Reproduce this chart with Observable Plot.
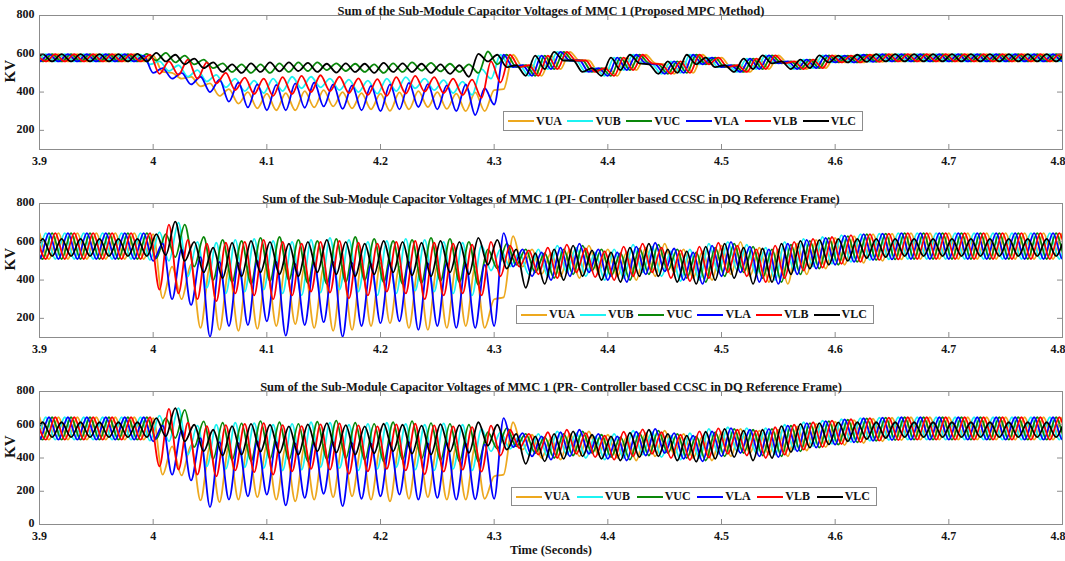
<!DOCTYPE html>
<html><head><meta charset="utf-8">
<script src="https://cdn.jsdelivr.net/npm/d3@7"></script>
<script src="https://cdn.jsdelivr.net/npm/@observablehq/plot@0.6"></script>
<style>
body{margin:0;background:#fff;}
#wrap{position:relative;width:1065px;height:561px;overflow:hidden;font-family:"Liberation Serif","Times New Roman",serif;}
#wrap svg{display:block;}
.legend{position:absolute;background:#fff;border:1px solid #8c8c8c;display:flex;align-items:center;justify-content:space-between;box-sizing:border-box;padding:0 6px 0 4px;font:bold 12px "Liberation Serif",serif;color:#111;}
.legend .item{display:flex;align-items:center;}
.legend .sw{width:26px;height:2px;margin-right:2px;}
</style></head><body><div id="wrap"></div>
<script>
// ---- series definitions ----
const seriesNames = ["VUA","VUB","VUC","VLA","VLB","VLC"];
const seriesColors = ["#EDA81E","#1CF2F2","#0A870A","#0000FF","#FF0000","#000000"];
const seriesPhase = [0, -2/3, -1/3, -1/2, -1/6, -5/6]; // fraction of a 60 Hz cycle
const xTicks = [3.9, 4.0, 4.1, 4.2, 4.3, 4.4, 4.5, 4.6, 4.7, 4.8];
const yTicks12 = [200, 400, 600, 800];
const yTicks3 = [0, 200, 400, 600, 800];
const titles = [
  "Sum of the Sub-Module Capacitor Voltages of MMC 1 (Proposed MPC Method)",
  "Sum of the Sub-Module Capacitor Voltages of MMC 1 (PI- Controller based CCSC in DQ Reference Frame)",
  "Sum of the Sub-Module Capacitor Voltages of MMC 1 (PR- Controller based CCSC in DQ Reference Frame)"
];
// values: per 60 Hz cycle, [number of cycles, peak kV, trough kV]

// ---- Panel 1 : Proposed MPC ----
const mpcRecovery = [[1,595,530],[1,540,485],[1,590,520],[1,610,565],[1,565,505],[1,525,485],[1,580,515],[1,595,550],[1,545,495],[1,560,500],[1,595,545],[1,580,530],[1,540,505],[1,575,520],[1,592,550],[1,560,520],[1,570,525],[1,592,555],[1,590,555],[1,595,558],[11,598,560]];
const mpcVUA = [[6,598,560],[1,590,505],[1,500,470],[1,480,430],[1,445,380],[1,415,340],[1,400,315],[1,392,305],[1,395,305],[1,405,320],[1,410,325],[1,400,315],[1,395,310],[1,392,302],[1,398,310],[1,405,322],[1,400,312],[1,392,300],[1,398,300],[1,410,415]];
const mpcVUB = [[6,598,560],[1,595,545],[1,560,510],[1,540,480],[1,515,455],[1,490,425],[1,470,405],[1,460,395],[1,470,405],[1,480,420],[1,480,425],[1,470,410],[1,465,400],[1,460,392],[1,470,405],[1,478,420],[1,470,410],[1,462,395],[1,455,385],[1,520,470]];
const mpcVUC = [[6,598,560],[1,600,565],[1,605,555],[1,590,545],[1,570,525],[1,550,505],[1,545,500],[1,545,500],[1,550,505],[1,555,510],[1,555,515],[1,550,510],[1,548,505],[1,545,500],[1,550,505],[1,555,512],[1,552,508],[1,548,505],[1,545,500],[1,612,545]];
const mpcVLA = [[6,598,560],[1,590,500],[1,525,470],[1,500,440],[1,480,400],[1,465,350],[1,450,320],[1,440,305],[1,438,305],[1,445,318],[1,450,325],[1,440,312],[1,435,305],[1,432,300],[1,440,310],[1,448,322],[1,442,310],[1,435,300],[1,440,280],[1,420,335]];
const mpcVLB = [[6,598,560],[1,595,495],[1,560,490],[1,570,470],[1,555,445],[1,500,410],[1,475,390],[1,470,380],[1,478,390],[1,485,400],[1,488,405],[1,480,395],[1,472,385],[1,468,380],[1,478,392],[1,485,402],[1,478,395],[1,470,385],[1,465,370],[1,560,450]];
const mpcVLC = [[6,598,560],[1,600,560],[1,605,560],[1,595,545],[1,575,525],[1,555,505],[1,545,500],[1,550,505],[1,555,508],[1,555,510],[1,552,505],[1,548,502],[1,550,505],[1,548,500],[1,552,505],[1,550,505],[1,548,500],[1,545,495],[1,540,480],[1,600,560]];

// ---- Panel 2 : PI controller ----
const piVUA = [[6,645,510],[1,640,305],[1,470,300],[1,480,150],[1,470,140],[1,460,135],[1,470,145],[1,480,160],[1,485,170],[1,470,150],[1,465,135],[1,475,140],[1,485,160],[1,490,175],[1,470,150],[1,465,140],[1,475,150],[1,480,160],[1,470,150],[1,300,310],[1,630,470],[1,560,430],[1,540,420],[1,560,410],[1,580,440],[1,560,420],[1,545,400],[1,570,420],[1,590,440],[1,560,410],[1,550,400],[1,580,430],[1,600,420],[1,570,390],[1,560,380],[1,590,430],[1,610,460],[1,620,480],[1,630,490],[1,640,500],[1,643,508],[10,645,510]];
const piVUB = [[6,645,510],[1,645,505],[1,650,500],[1,700,420],[1,600,360],[1,595,330],[1,610,340],[1,615,350],[1,605,330],[1,600,320],[1,610,335],[1,620,350],[1,610,340],[1,600,320],[1,605,330],[1,615,345],[1,610,340],[1,600,330],[1,595,320],[1,580,450],[1,560,470],[1,540,430],[1,560,420],[1,580,440],[1,570,420],[1,545,400],[1,560,410],[1,585,440],[1,575,420],[1,550,395],[1,560,400],[1,590,440],[1,600,450],[1,585,430],[1,570,400],[1,600,450],[1,615,470],[1,625,485],[1,635,495],[1,640,505],[1,643,508],[10,645,510]];
const piVUC = [[6,645,510],[1,645,515],[1,640,520],[1,690,470],[1,625,400],[1,610,390],[1,605,380],[1,620,395],[1,625,400],[1,610,385],[1,605,380],[1,615,390],[1,625,400],[1,615,390],[1,605,380],[1,610,385],[1,620,395],[1,615,390],[1,600,375],[1,560,460],[1,590,480],[1,560,440],[1,540,410],[1,560,430],[1,580,450],[1,560,420],[1,540,400],[1,565,430],[1,585,450],[1,560,410],[1,545,390],[1,570,420],[1,590,440],[1,575,410],[1,560,390],[1,585,430],[1,605,460],[1,620,480],[1,630,495],[1,640,505],[1,643,508],[10,645,510]];
const piVLA = [[6,645,510],[1,645,500],[1,590,300],[1,560,270],[1,520,105],[1,495,160],[1,490,165],[1,500,185],[1,495,110],[1,485,165],[1,490,180],[1,495,105],[1,490,160],[1,485,175],[1,490,185],[1,495,140],[1,488,160],[1,490,150],[1,485,150],[1,480,160],[1,645,470],[1,560,420],[1,545,400],[1,570,420],[1,590,440],[1,560,400],[1,545,390],[1,575,430],[1,595,445],[1,565,400],[1,545,380],[1,580,420],[1,600,440],[1,575,390],[1,560,380],[1,590,430],[1,610,460],[1,620,480],[1,632,495],[1,640,505],[1,643,508],[10,645,510]];
const piVLB = [[6,645,510],[1,645,350],[1,690,330],[1,610,300],[1,590,290],[1,595,330],[1,600,320],[1,610,300],[1,600,320],[1,590,340],[1,600,335],[1,605,305],[1,595,320],[1,590,340],[1,600,330],[1,605,300],[1,595,320],[1,590,330],[1,585,320],[1,600,420],[1,580,470],[1,555,430],[1,570,410],[1,585,440],[1,565,415],[1,550,400],[1,575,420],[1,590,440],[1,570,410],[1,555,395],[1,575,410],[1,595,440],[1,580,420],[1,560,390],[1,580,410],[1,600,450],[1,615,465],[1,625,485],[1,635,495],[1,640,505],[1,643,508],[10,645,510]];
const piVLC = [[6,615,525],[1,615,525],[1,640,530],[1,705,500],[1,600,440],[1,570,410],[1,595,420],[1,605,440],[1,600,430],[1,590,420],[1,600,440],[1,610,430],[1,600,420],[1,590,430],[1,605,440],[1,600,425],[1,595,420],[1,605,440],[1,600,430],[1,620,480],[1,610,460],[1,560,360],[1,540,380],[1,560,400],[1,580,420],[1,555,400],[1,545,390],[1,570,420],[1,590,420],[1,560,390],[1,550,380],[1,575,400],[1,590,410],[1,570,380],[1,565,390],[1,590,430],[1,605,460],[1,610,480],[1,615,500],[1,615,515],[1,615,520],[10,615,525]];

// ---- Panel 3 : PR controller ----
const prVUA = [[6,645,510],[1,640,300],[1,470,295],[1,475,145],[1,468,135],[1,470,150],[1,480,165],[1,475,150],[1,465,140],[1,470,150],[1,480,165],[1,485,170],[1,470,150],[1,465,140],[1,475,155],[1,480,165],[1,470,150],[1,468,150],[1,470,155],[1,290,300],[1,615,450],[1,540,400],[1,520,390],[1,545,410],[1,560,420],[1,540,400],[1,525,385],[1,550,410],[1,565,425],[1,545,400],[1,530,385],[1,555,410],[1,575,430],[1,565,420],[1,570,410],[1,590,445],[1,605,465],[1,618,478],[1,628,490],[1,636,500],[1,642,507],[10,645,510]];
const prVUB = [[6,645,510],[1,645,505],[1,655,500],[1,700,420],[1,595,350],[1,600,335],[1,612,345],[1,610,340],[1,600,325],[1,605,330],[1,615,345],[1,612,340],[1,600,325],[1,605,335],[1,612,345],[1,605,330],[1,600,325],[1,608,335],[1,600,325],[1,575,440],[1,555,455],[1,530,420],[1,545,405],[1,560,420],[1,550,400],[1,530,390],[1,545,400],[1,565,420],[1,555,405],[1,535,390],[1,550,400],[1,575,425],[1,585,440],[1,580,430],[1,580,420],[1,600,450],[1,615,470],[1,625,485],[1,633,495],[1,640,503],[1,643,508],[10,645,510]];
const prVUC = [[6,645,510],[1,645,515],[1,640,520],[1,690,465],[1,620,395],[1,612,388],[1,608,382],[1,622,395],[1,615,388],[1,605,380],[1,618,392],[1,625,398],[1,612,388],[1,605,380],[1,615,390],[1,622,396],[1,610,386],[1,605,380],[1,600,378],[1,555,455],[1,580,470],[1,545,430],[1,525,400],[1,545,415],[1,560,430],[1,540,405],[1,525,390],[1,550,415],[1,565,430],[1,545,400],[1,530,385],[1,555,410],[1,575,430],[1,570,415],[1,575,410],[1,595,440],[1,610,462],[1,622,480],[1,630,494],[1,638,503],[1,643,508],[10,645,510]];
const prVLA = [[6,645,510],[1,645,500],[1,595,300],[1,565,265],[1,520,105],[1,495,150],[1,490,170],[1,500,180],[1,495,115],[1,488,160],[1,490,185],[1,495,110],[1,490,155],[1,486,170],[1,492,180],[1,495,150],[1,488,160],[1,490,150],[1,486,152],[1,482,155],[1,640,465],[1,550,410],[1,530,390],[1,555,410],[1,570,425],[1,545,395],[1,530,385],[1,558,415],[1,575,430],[1,550,395],[1,535,380],[1,560,410],[1,580,430],[1,570,410],[1,575,405],[1,595,440],[1,610,462],[1,622,480],[1,632,494],[1,639,503],[1,643,508],[10,645,510]];
const prVLB = [[6,645,510],[1,645,350],[1,695,330],[1,612,300],[1,592,290],[1,598,325],[1,605,315],[1,610,300],[1,598,320],[1,592,335],[1,602,330],[1,608,305],[1,596,320],[1,590,335],[1,602,325],[1,606,302],[1,596,318],[1,590,330],[1,586,318],[1,595,415],[1,570,460],[1,545,420],[1,555,400],[1,570,425],[1,550,405],[1,535,390],[1,558,410],[1,572,425],[1,555,400],[1,540,388],[1,560,402],[1,578,425],[1,570,415],[1,565,400],[1,585,420],[1,600,450],[1,615,466],[1,625,484],[1,633,495],[1,640,504],[1,643,508],[10,645,510]];
const prVLC = [[6,615,525],[1,615,525],[1,640,530],[1,700,500],[1,600,440],[1,570,415],[1,592,420],[1,605,438],[1,600,430],[1,590,420],[1,602,440],[1,610,432],[1,598,420],[1,590,428],[1,606,440],[1,600,426],[1,595,420],[1,604,438],[1,598,430],[1,615,475],[1,600,450],[1,545,365],[1,530,380],[1,545,395],[1,560,410],[1,540,395],[1,530,385],[1,552,405],[1,570,410],[1,545,385],[1,535,378],[1,558,395],[1,575,405],[1,565,385],[1,570,400],[1,592,435],[1,605,462],[1,610,482],[1,614,500],[1,615,513],[1,615,520],[10,615,525]];

const t0 = 3.9, freq = 60;
function expand(runs, name, phase) {
  const pts = []; let k = 0;
  for (const [n, hi, lo] of runs) {
    for (let i = 0; i < n; i++, k++) {
      pts.push({t: t0 + (k + phase) / freq, v: hi, s: name});
      pts.push({t: t0 + (k + phase + 0.5) / freq, v: lo, s: name});
    }
  }
  return pts;
}
const fmt = d => String(+d.toFixed(1));
const TXT = "#151515", AX = "#8c8c8c";
const W = 1065, ML = 39, MR = 3;

function panel({title, series, yDomain, yTicks, height, mt, mb, xLabel}) {
  const data = series.flatMap((runs, i) => expand(runs, seriesNames[i], seriesPhase[i]));
  const pw = W - ML - MR, ph = height - mt - mb;
  const inner = xTicks.slice(0, -1), last = xTicks.slice(-1);
  const marks = [
    Plot.line(data, {x: "t", y: "v", z: "s", stroke: "s", curve: "monotone-x", strokeWidth: 1.8, clip: true}),
    Plot.frame({stroke: AX}),
    Plot.tickX(xTicks, {x: d => d, insetTop: ph - 5, stroke: AX}),
    Plot.tickX(xTicks, {x: d => d, insetBottom: ph - 5, stroke: AX}),
    Plot.tickY(yTicks, {y: d => d, insetRight: pw - 5, stroke: AX}),
    Plot.tickY(yTicks, {y: d => d, insetLeft: pw - 5, stroke: AX}),
    Plot.text(inner, {x: d => d, frameAnchor: "bottom", dy: 15, text: fmt, fontSize: 12, fontWeight: "bold", fill: TXT}),
    Plot.text(last, {x: d => d, frameAnchor: "bottom", dy: 15, dx: 3, textAnchor: "end", text: fmt, fontSize: 12, fontWeight: "bold", fill: TXT}),
    Plot.text(yTicks, {y: d => d, frameAnchor: "left", dx: -5, dy: -1, textAnchor: "end", text: d => String(d), fontSize: 12, fontWeight: "bold", fill: TXT}),
    Plot.text([title], {frameAnchor: "top", dy: -9, text: d => d, fontSize: 12.5, fontWeight: "bold", fill: TXT}),
    Plot.text(["KV"], {frameAnchor: "left", dx: -29, rotate: -90, text: d => d, fontSize: 15, fontWeight: "bold", fill: TXT})
  ];
  if (xLabel) marks.push(Plot.text([xLabel], {frameAnchor: "bottom", dy: 29, text: d => d, fontSize: 12.5, fontWeight: "bold", fill: TXT}));
  return Plot.plot({
    width: W, height, marginLeft: ML, marginRight: MR, marginTop: mt, marginBottom: mb,
    x: {domain: [3.9, 4.8], axis: null},
    y: {domain: yDomain, axis: null},
    color: {domain: seriesNames, range: seriesColors},
    style: {fontFamily: '"Liberation Serif","Times New Roman",serif', background: "#fff", overflow: "visible"},
    marks
  });
}

const wrap = document.getElementById("wrap");
const mpcSeries = [mpcVUA, mpcVUB, mpcVUC, mpcVLA, mpcVLB, mpcVLC].map(s => s.concat(mpcRecovery));
wrap.append(panel({title: titles[0], series: mpcSeries, yDomain: [100, 800], yTicks: yTicks12, height: 180, mt: 15, mb: 31}));
wrap.append(panel({title: titles[1], series: [piVUA, piVUB, piVUC, piVLA, piVLB, piVLC], yDomain: [100, 800], yTicks: yTicks12, height: 187, mt: 23, mb: 30}));
wrap.append(panel({title: titles[2], series: [prVUA, prVUB, prVUC, prVLA, prVLB, prVLC], yDomain: [0, 800], yTicks: yTicks3, height: 194, mt: 24, mb: 37, xLabel: "Time (Seconds)"}));

const legendBoxes = [
  {left: 503, top: 111, width: 360, height: 20},
  {left: 516, top: 305, width: 358, height: 19},
  {left: 511, top: 487, width: 366, height: 19}
];
for (const b of legendBoxes) {
  const div = document.createElement("div");
  div.className = "legend";
  Object.assign(div.style, {left: b.left + "px", top: b.top + "px", width: b.width + "px", height: b.height + "px"});
  seriesNames.forEach((n, i) => {
    const it = document.createElement("div"); it.className = "item";
    const sw = document.createElement("div"); sw.className = "sw"; sw.style.background = seriesColors[i];
    const lab = document.createElement("span"); lab.textContent = n;
    it.append(sw, lab); div.append(it);
  });
  wrap.append(div);
}
</script></body></html>
